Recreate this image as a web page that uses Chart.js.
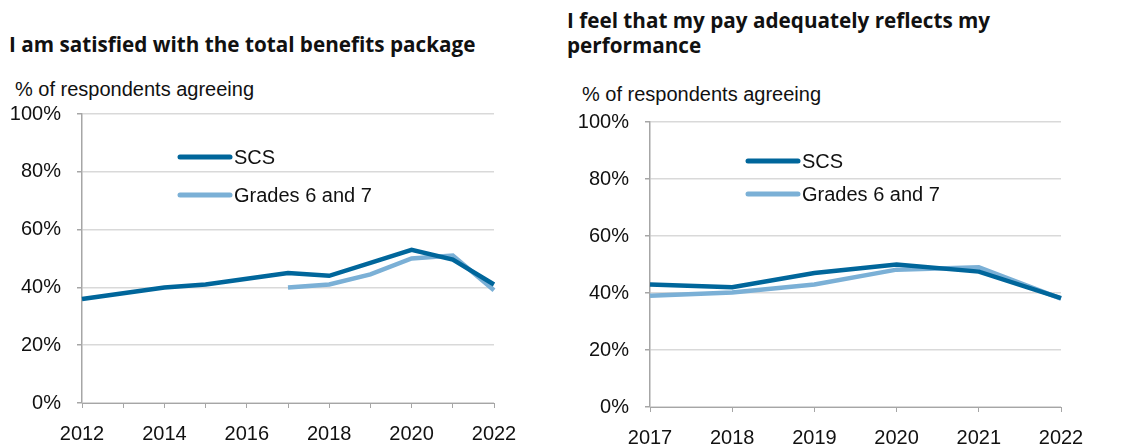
<!DOCTYPE html>
<html>
<head>
<meta charset="utf-8">
<script src="https://cdn.jsdelivr.net/npm/chart.js@4.4.1/dist/chart.umd.min.js"></script>
<style>
  body { margin: 0; background: #fff; width: 1122px; height: 447px; position: relative; overflow: hidden; }
  .title { position: absolute; font-family: "Open Sans", sans-serif; font-weight: bold; font-size: 20.7px; color: #111; line-height: 25px; }
  .sub { position: absolute; font-family: "Liberation Sans", Arial, sans-serif; font-size: 20px; color: #111; }
  canvas { position: absolute; top: 0; }
</style>
</head>
<body>
<div class="title" style="left:9px; top:32px;">I am satisfied with the total benefits package</div>
<div class="title" style="left:567px; top:8px;">I feel that my pay adequately reflects my<br>performance</div>
<div class="sub" style="left:15px; top:78px;">% of respondents agreeing</div>
<div class="sub" style="left:582px; top:83px;">% of respondents agreeing</div>
<canvas id="benefits" style="left:0px; width:520px; height:447px;"></canvas>
<canvas id="pay" style="left:560px; width:562px; height:447px;"></canvas>
<script>
// benefits chart
var benefitYears = ["2012", "2013", "2014", "2015", "2016", "2017", "2018", "2019", "2020", "2021", "2022"];
var benefitScs = [36, 38, 40, 41, 43, 45, 44, 48.5, 53, 49.6, 41];
var benefitGrades = [null, null, null, null, null, 40, 41, 44.5, 50, 51, 39];

// pay chart
var payYears = ["2017", "2018", "2019", "2020", "2021", "2022"];
var payScs = [43, 42, 47, 50, 47.5, 38.2];
var payGrades = [39, 40.2, 43, 48.2, 49, 38];

var yTicks = [0, 20, 40, 60, 80, 100];

var DARK = "#00669b";
var LIGHT = "#7bb0d6";
var FONT = "'Liberation Sans', Arial, sans-serif";

// legend drawn inside the plot area
var insideLegend = {
  id: "insideLegend",
  afterDatasetsDraw: function (chart, args, opts) {
    var ctx = chart.ctx, a = chart.chartArea;
    ctx.save();
    chart.data.datasets.forEach(function (ds, i) {
      var x = a.left + opts.x, y = a.top + opts.rows[i];
      ctx.strokeStyle = ds.borderColor;
      ctx.lineWidth = 5;
      ctx.lineCap = "round";
      ctx.beginPath();
      ctx.moveTo(x, y);
      ctx.lineTo(x + 50, y);
      ctx.stroke();
      ctx.fillStyle = "#111";
      ctx.font = "20px " + FONT;
      ctx.textBaseline = "middle";
      ctx.fillText(ds.label, x + 54, y + 1);
    });
    ctx.restore();
  }
};

function makeChart(id, labels, scs, grades, cfg) {
  return new Chart(document.getElementById(id), {
    type: "line",
    data: {
      labels: labels,
      datasets: [
        { label: "SCS", data: scs, borderColor: DARK, borderWidth: 4.5, pointRadius: 0, tension: 0 },
        { label: "Grades 6 and 7", data: grades, borderColor: LIGHT, borderWidth: 4.5, pointRadius: 0, tension: 0 }
      ]
    },
    options: {
      responsive: false,
      animation: false,
      layout: { padding: { top: cfg.top, right: cfg.right, left: 0, bottom: 0 } },
      plugins: {
        legend: { display: false },
        tooltip: { enabled: false },
        insideLegend: { x: 98, rows: cfg.rows }
      },
      scales: {
        x: {
          offset: false,
          grid: { drawOnChartArea: false, drawTicks: true, tickLength: 5, tickColor: "#a6a6a6" },
          border: { color: "#a6a6a6", width: 1 },
          ticks: {
            autoSkip: false, maxRotation: 0, padding: 14, color: "#111",
            font: { family: FONT, size: 20 },
            callback: function (v, i) { return i % cfg.every === 0 ? labels[i] : ""; }
          },
          afterFit: function (s) { s.height = cfg.xh; s.paddingLeft = 0; s.paddingRight = 0; }
        },
        y: {
          min: 0, max: 100,
          afterBuildTicks: function (s) { s.ticks = yTicks.map(function (v) { return { value: v }; }); },
          grid: { color: "#d9d9d9", lineWidth: 1.5, tickLength: 5, tickColor: "#a6a6a6" },
          border: { color: "#a6a6a6", width: 1.5 },
          ticks: {
            padding: 16, color: "#111",
            font: { family: FONT, size: 20 },
            callback: function (v) { return v + "%"; }
          },
          afterFit: function (s) { s.width = cfg.yw; s.paddingTop = 0; s.paddingBottom = 0; }
        }
      }
    },
    plugins: [insideLegend]
  });
}

function sizeCanvas(id, w, h) {
  var c = document.getElementById(id);
  c.width = w; c.height = h;
}
sizeCanvas("benefits", 520, 447);
sizeCanvas("pay", 562, 447);

makeChart("benefits", benefitYears, benefitScs, benefitGrades,
  { top: 114, right: 26, xh: 44, yw: 82, every: 2, rows: [43, 81] });
makeChart("pay", payYears, payScs, payGrades,
  { top: 122, right: 61, xh: 40, yw: 90, every: 1, rows: [39, 72] });
</script>
</body>
</html>
